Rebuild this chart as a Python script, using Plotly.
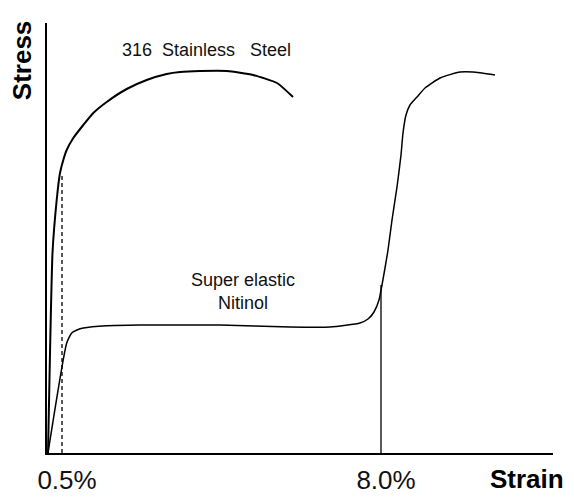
import plotly.graph_objects as go

# schematic stress-strain curves (arbitrary units)
steel_strain = [1, 3, 5.5, 9.7, 13, 16.3, 19.7, 26.3, 36.3, 46.3, 59.7, 79.7, 99.7, 119.7, 133,
                153, 180, 206, 230, 246]
steel_stress = [0, 100, 200, 253, 280, 293, 303, 315, 328, 340, 351, 364, 373, 379, 381,
                382, 382, 378, 370, 356]

niti_strain = [1, 19.7, 24.7, 30, 36.3, 59.7, 93, 173, 243, 283, 313, 321, 327, 332, 335, 338, 341, 345,
               350, 354, 356, 359, 363, 370, 378, 393, 413, 426, 448]
niti_stress = [0, 110, 120, 123, 125, 127.3, 128, 128, 126, 126, 130, 134, 141, 153, 168, 185, 203, 233,
               266, 298, 320, 338, 348, 356, 365, 375, 381, 381, 378]

# markers at 0.5 % and 8.0 %
tick_pos = [15, 334]
tick_text = ['0.5%', '8.0%']
marker_top = [280, 168]

fig = go.Figure()
fig.add_trace(go.Scatter(x=steel_strain, y=steel_stress, mode='lines',
                         line=dict(color='black', width=2, shape='spline', smoothing=0.5)))
fig.add_trace(go.Scatter(x=niti_strain, y=niti_stress, mode='lines',
                         line=dict(color='black', width=1.5, shape='spline', smoothing=0.5)))
fig.add_trace(go.Scatter(x=[tick_pos[0], tick_pos[0]], y=[0, marker_top[0]], mode='lines',
                         line=dict(color='black', width=1.3, dash='4px,3px')))
fig.add_trace(go.Scatter(x=[tick_pos[1], tick_pos[1]], y=[0, marker_top[1]], mode='lines',
                         line=dict(color='black', width=1.3)))

font = 'Liberation Sans, Arial, sans-serif'
fig.add_annotation(x=159, y=403, text='316\u00a0\u00a0Stainless\u00a0\u00a0\u00a0Steel', showarrow=False,
                   font=dict(size=18, color='#111', family=font))
fig.add_annotation(x=196, y=162, text='Super elastic<br>Nitinol', showarrow=False,
                   font=dict(size=18, color='#111', family=font))
fig.add_annotation(x=-0.049, y=0.914, xref='paper', yref='paper', text='<b>Stress</b>',
                   textangle=-90, showarrow=False, xanchor='center', yanchor='middle',
                   font=dict(size=26, color='black', family=font))
fig.add_annotation(x=0.9486, y=-0.06, xref='paper', yref='paper', text='<b>Strain</b>',
                   showarrow=False, xanchor='center', yanchor='middle',
                   font=dict(size=26, color='black', family=font))

fig.update_layout(
    width=574, height=503,
    margin=dict(l=47, r=21, t=23, b=50),
    plot_bgcolor='white', paper_bgcolor='white',
    showlegend=False,
    font=dict(family=font, color='black'),
)
fig.update_xaxes(range=[0, 506], showgrid=False, zeroline=False, showline=True,
                 linecolor='black', linewidth=2, tickvals=tick_pos, ticktext=tick_text,
                 tickfont=dict(size=26, color='#111'), ticks='', ticklabelshift=5,
                 ticklabelstandoff=3, automargin=False)
fig.update_yaxes(range=[0, 430], showgrid=False, zeroline=False, showline=True,
                 linecolor='black', linewidth=2, showticklabels=False, ticks='',
                 automargin=False)

fig.write_html("out.html", config={'displayModeBar': False},
               post_script="document.body.style.margin='0';")
